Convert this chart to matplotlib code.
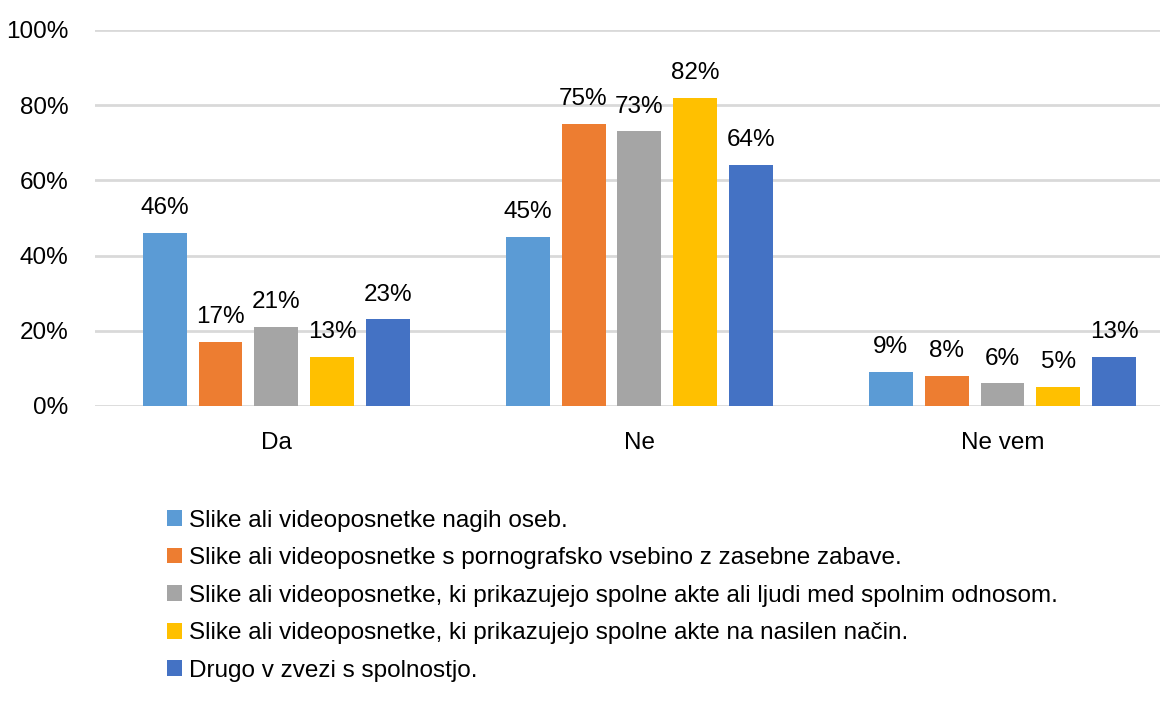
import numpy as np
import matplotlib
matplotlib.use("Agg")
import matplotlib.pyplot as plt
from matplotlib.patches import Patch

plt.rcParams['font.family'] = ['Liberation Sans', 'DejaVu Sans']

categories = ['Da', 'Ne', 'Ne vem']
series_names = [
    'Slike ali videoposnetke nagih oseb.',
    'Slike ali videoposnetke s pornografsko vsebino z zasebne zabave.',
    'Slike ali videoposnetke, ki prikazujejo spolne akte ali ljudi med spolnim odnosom.',
    'Slike ali videoposnetke, ki prikazujejo spolne akte na nasilen način.',
    'Drugo v zvezi s spolnostjo.',
]
nagih = [46, 45, 9]
porno = [17, 75, 8]
odnos = [21, 73, 6]
nasilen = [13, 82, 5]
drugo = [23, 64, 13]
values = [nagih, porno, odnos, nasilen, drugo]
colors = ['#5b9bd5', '#ed7d31', '#a5a5a5', '#ffc000', '#4472c4']

FS = 17.5

fig = plt.figure(figsize=(11.71, 7.11), dpi=100)
ax = fig.add_axes([0.081, 0.429, 0.91, 0.529])

x = np.arange(len(categories))
pitch = 0.154
width = 0.121
for k, (vals, c) in enumerate(zip(values, colors)):
    pos = x + (k - 2) * pitch
    fr = np.array(vals) / 100
    ax.bar(pos, fr, width=width, color=c, zorder=3)
    for px, v in zip(pos, vals):
        ax.annotate(f'{v}%', (px, v / 100), xytext=(0, 10), textcoords='offset points',
                    ha='center', va='bottom', fontsize=FS, color='#000000')

ax.set_xlim(-0.5, 2.435)
ax.set_ylim(0, 1)
ax.set_yticks(np.arange(0, 1.01, 0.2))
ax.set_yticklabels([f'{int(t * 100)}%' for t in np.arange(0, 1.01, 0.2)])
ax.set_xticks(x)
ax.set_xticklabels(categories)
ax.tick_params(axis='both', length=0, labelsize=FS, colors='#000000')
ax.tick_params(axis='x', pad=19)
ax.tick_params(axis='y', pad=19)
ax.grid(axis='y', color='#d9d9d9', linewidth=2, zorder=0)
for s in ax.spines.values():
    s.set_visible(False)

handles = [Patch(facecolor=c, edgecolor='none') for c in colors]
fig.legend(handles, series_names, loc='upper left', bbox_to_anchor=(0.134, 0.297),
           frameon=False, fontsize=FS, handlelength=0.62, handleheight=0.62,
           handletextpad=0.3, labelspacing=0.64, borderaxespad=0)

fig.savefig('out.png', dpi=100)
